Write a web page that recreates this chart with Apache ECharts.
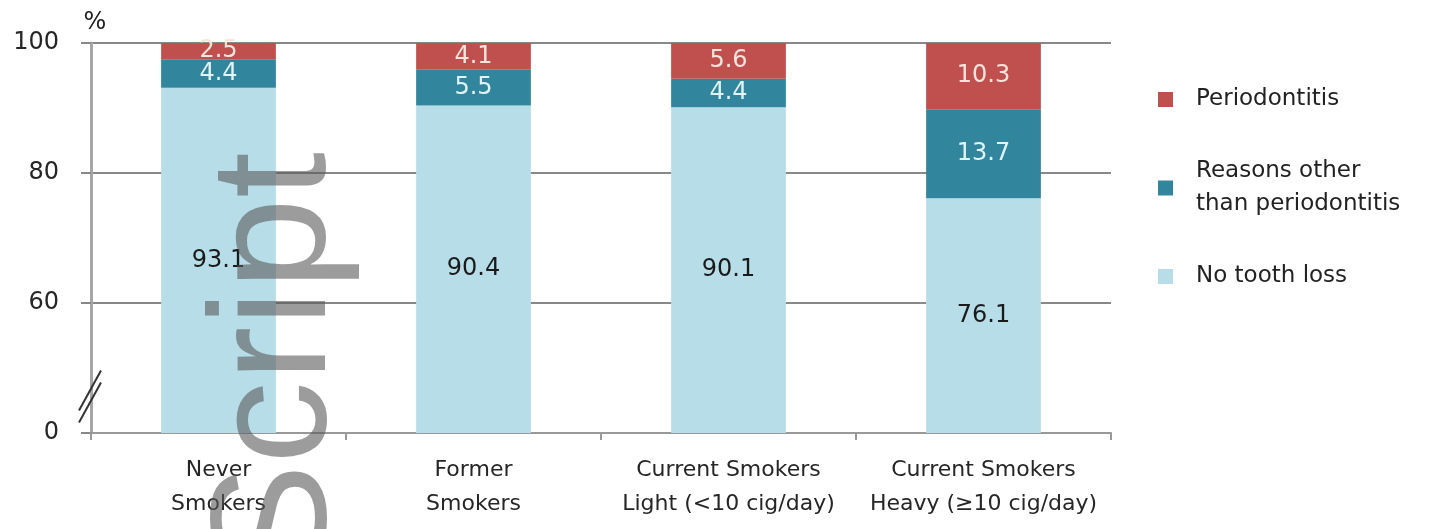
<!DOCTYPE html>
<html><head><meta charset="utf-8">
<script src="https://cdn.jsdelivr.net/npm/echarts@6/dist/echarts.min.js"></script>
<style>html,body{margin:0;padding:0;background:#fff}#c{width:1430px;height:529px}</style>
</head><body><div id="c"></div>
<script>
const categories = ['Never\nSmokers', 'Former\nSmokers', 'Current Smokers\nLight (<10 cig/day)', 'Current Smokers\nHeavy (\u226510 cig/day)'];
const seriesNames = ['No tooth loss', 'Reasons other\nthan periodontitis', 'Periodontitis'];
const noToothLoss = [93.1, 90.4, 90.1, 76.1];
const otherReasons = [4.4, 5.5, 4.4, 13.7];
const periodontitis = [2.5, 4.1, 5.6, 10.3];
const yTickValues = [40, 60, 80, 100];
const yTickLabels = ['0', '60', '80', '100'];
const colors = ['#B7DEE8', '#31859C', '#C0504D'];
const labelColors = ['#1a1a1a', '#e0f3f7', '#fbe4dd'];
const FONT = '"DejaVu Sans", "Liberation Sans", sans-serif';
const GRID = {left: 91, right: 319, top: 43, bottom: 96};

const chart = echarts.init(document.getElementById('c'));
const values = [noToothLoss, otherReasons, periodontitis];
chart.setOption({
  animation: false,
  backgroundColor: '#fff',
  grid: GRID,
  legend: {
    orient: 'vertical', left: 1153, top: 78,
    itemWidth: 15, itemHeight: 15, itemGap: 39, icon: 'rect',
    data: [seriesNames[2], seriesNames[1], seriesNames[0]],
    textStyle: {fontSize: 23, lineHeight: 33, color: '#222', fontFamily: FONT, padding: [0, 0, 0, 18]}
  },
  xAxis: {
    type: 'category', data: categories,
    axisLine: {lineStyle: {color: '#999', width: 2}},
    axisTick: {show: true, interval: 0, length: 7, lineStyle: {color: '#999', width: 2}},
    axisLabel: {interval: 0, fontSize: 22, lineHeight: 34, margin: 20, color: '#262626', fontFamily: FONT}
  },
  yAxis: {
    type: 'value', min: yTickValues[0], max: yTickValues[yTickValues.length - 1], interval: 20,
    name: '%', nameLocation: 'end', nameGap: 8,
    nameTextStyle: {fontSize: 24, color: '#1e1e1e', fontFamily: FONT, align: 'center', padding: [0, 0, 0, 8]},
    axisLine: {show: true, lineStyle: {color: '#a6a6a6', width: 3}},
    axisTick: {show: true, length: 10, lineStyle: {color: '#888', width: 2}},
    axisLabel: {fontSize: 24, margin: 32, color: '#262626', fontFamily: FONT,
      formatter: v => { const i = yTickValues.indexOf(v); return i >= 0 ? yTickLabels[i] : ''; }},
    splitLine: {lineStyle: {color: '#888', width: 2}}
  },
  series: seriesNames.map((n, i) => ({
    name: n, type: 'bar', stack: 'total', barWidth: '45%',
    itemStyle: {color: colors[i]},
    label: {show: true, position: 'inside', fontSize: 24, color: labelColors[i], fontFamily: FONT},
    data: values[i]
  })),
  graphic: []
});

// axis-break marks near the bottom of the y axis and overlay text
const yb = chart.convertToPixel({yAxisIndex: 0}, 45);
const xa = GRID.left;
chart.setOption({
  graphic: [
    {type: 'line', shape: {x1: xa - 12, y1: yb + 22, x2: xa + 10, y2: yb - 18}, style: {stroke: '#333', lineWidth: 2}, z: 50},
    {type: 'line', shape: {x1: xa - 12, y1: yb + 10, x2: xa + 10, y2: yb - 30}, style: {stroke: '#333', lineWidth: 2}, z: 50},
    {type: 'text', x: 362, y: 574, rotation: Math.PI / 2, z: 100,
      style: {text: 'Script', font: '165px "Liberation Sans"', fill: 'rgba(90,90,90,0.6)', align: 'left', verticalAlign: 'bottom'}}
  ]
});
</script></body></html>
